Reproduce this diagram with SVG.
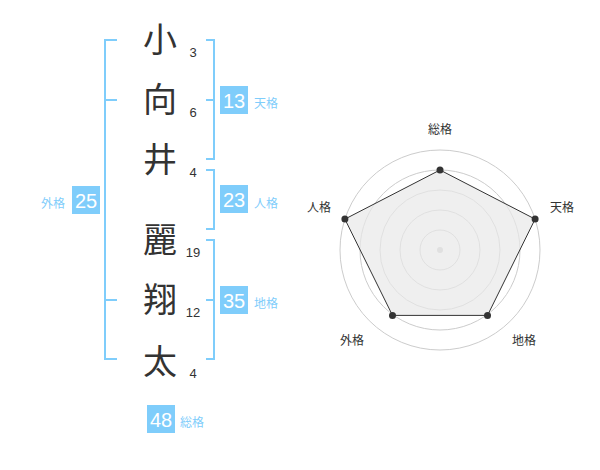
<svg xmlns="http://www.w3.org/2000/svg" width="600" height="470" viewBox="0 0 600 470">
<style>
.kanji{font-family:"Noto Sans CJK JP","Noto Sans CJK SC",sans-serif;font-size:34px;fill:#333;text-anchor:middle}
.num{font-family:"Liberation Sans",Arial,sans-serif;font-size:13px;fill:#333;text-anchor:middle}
.br{fill:none;stroke:#7fcdfb;stroke-width:2}
.box{fill:#7fcdfb}
.bnum{font-family:"Liberation Sans",Arial,sans-serif;font-size:20px;fill:#fff;text-anchor:middle}
.blab{font-family:"Noto Sans CJK JP",sans-serif;font-size:12px;fill:#7fcdfb;text-anchor:middle}
.grid{fill:none;stroke:#cccccc;stroke-width:1}
.rlab{font-family:"Noto Sans CJK JP",sans-serif;font-size:12px;fill:#333;text-anchor:middle}
.pt{fill:#333}
</style>
<rect width="600" height="470" fill="#fff"/>
<g id="characters">
<g id="char1"><text class="kanji" x="160" y="52">小</text><text class="num" x="193" y="57">3</text></g>
<g id="char2"><text class="kanji" x="160" y="112">向</text><text class="num" x="193" y="117">6</text></g>
<g id="char3"><text class="kanji" x="160" y="172">井</text><text class="num" x="193" y="177">4</text></g>
<g id="char4"><text class="kanji" x="160" y="252">麗</text><text class="num" x="193" y="257">19</text></g>
<g id="char5"><text class="kanji" x="160" y="312">翔</text><text class="num" x="193" y="317">12</text></g>
<g id="char6"><text class="kanji" x="160" y="374">太</text><text class="num" x="193" y="378">4</text></g>
</g>
<g id="connectors">
<path class="br" d="M117,40 H105 V359 H117 M105,100 H117 M105,300 H117"/>
<path class="br" d="M206,40 H214 V159 H206 M206,100 H214"/>
<path class="br" d="M206,170 H214 V229 H206"/>
<path class="br" d="M206,240 H214 V359 H206 M206,300 H214"/>
</g>
<g id="tenkaku"><rect class="box" x="220" y="86" width="28" height="28"/><text class="bnum" x="234" y="108">13</text><text class="blab" x="266" y="108">天格</text></g>
<g id="jinkaku"><rect class="box" x="220" y="185" width="28" height="28"/><text class="bnum" x="234" y="207">23</text><text class="blab" x="266" y="208">人格</text></g>
<g id="chikaku"><rect class="box" x="220" y="286" width="28" height="28"/><text class="bnum" x="234" y="308">35</text><text class="blab" x="266" y="308">地格</text></g>
<g id="gaikaku"><rect class="box" x="72" y="186" width="28" height="28"/><text class="bnum" x="86" y="208">25</text><text class="blab" x="53" y="208">外格</text></g>
<g id="soukaku"><rect class="box" x="147" y="405" width="28" height="28"/><text class="bnum" x="161" y="427">48</text><text class="blab" x="192" y="427">総格</text></g>
<g id="radar">
<circle class="grid" cx="440" cy="250" r="20"/>
<circle class="grid" cx="440" cy="250" r="40"/>
<circle class="grid" cx="440" cy="250" r="60"/>
<circle class="grid" cx="440" cy="250" r="80"/>
<circle class="grid" cx="440" cy="250" r="100"/>
<circle cx="440" cy="250" r="3" fill="#cccccc"/>
<polygon points="440,170 535.1,219.1 487.5,315.4 392.5,315.4 344.9,219.1" fill="#e8e8e8" fill-opacity="0.7" stroke="#333" stroke-width="1"/>
<circle class="pt" cx="440" cy="170" r="3.5"/>
<circle class="pt" cx="535.1" cy="219.1" r="3.5"/>
<circle class="pt" cx="487.5" cy="315.4" r="3.5"/>
<circle class="pt" cx="392.5" cy="315.4" r="3.5"/>
<circle class="pt" cx="344.9" cy="219.1" r="3.5"/>
<text class="rlab" x="440" y="134">総格</text>
<text class="rlab" x="562" y="212">天格</text>
<text class="rlab" x="524" y="345">地格</text>
<text class="rlab" x="352" y="345">外格</text>
<text class="rlab" x="319" y="212">人格</text>
</g>
</svg>
